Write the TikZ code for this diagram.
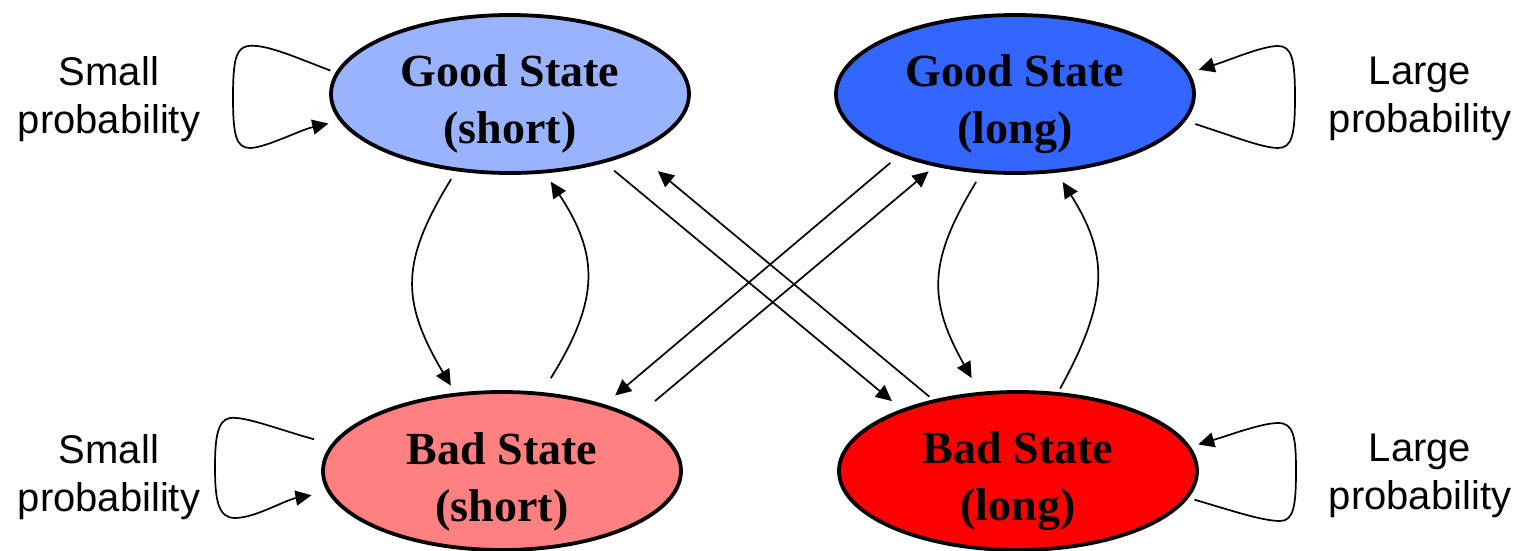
\documentclass[tikz,border=0pt]{standalone}
\usepackage{fontspec}
\setmainfont{Liberation Serif}
\newfontfamily\labelfont{Liberation Sans}
\usetikzlibrary{arrows.meta,shapes.geometric}
\definecolor{gsfill}{RGB}{153,179,255}
\definecolor{glfill}{RGB}{51,102,255}
\definecolor{bsfill}{RGB}{255,128,128}
\definecolor{blfill}{RGB}{255,0,0}
\begin{document}
\begin{tikzpicture}[x=0.5pt,y=-0.5pt,
  state/.style={ellipse, draw=black, line width=1.9pt, minimum width=179pt, minimum height=79pt, inner sep=0pt},
  statetext/.style={font=\fontsize{23}{28.5}\selectfont\bfseries, align=center, inner sep=0pt},
  problabel/.style={font=\labelfont\fontsize{20}{24}\selectfont, align=center, inner sep=0pt},
  conn/.style={line width=0.85pt, -{Triangle[length=8pt,width=7.5pt]}}
]
\fill[white] (0,0) rectangle (1517,551);
\useasboundingbox (0,0) rectangle (1517,551);

% states
\node[state, fill=gsfill] (gs) at (510,94) {};
\node[state, fill=glfill] (gl) at (1015,94) {};
\node[state, fill=bsfill] (bs) at (502,471) {};
\node[state, fill=blfill] (bl) at (1018,471) {};
\node[statetext] (gst) at ([yshift=-5pt]gs.center) {Good State\\(short)};
\node[statetext] (glt) at ([yshift=-5pt]gl.center) {Good State\\(long)};
\node[statetext] (bst) at ([yshift=-5.5pt]bs.center) {Bad State\\(short)};
\node[statetext] (blt) at ([yshift=-5pt]bl.center) {Bad State\\(long)};

% labels
\node[problabel] (lgs) at (109,99) {Small\\probability};
\node[problabel] (lbs) at (109,477) {Small\\probability};
\node[problabel] (lgl) at (1420,99) {Large\\probability};
\node[problabel] (lbl) at (1420,476) {Large\\probability};

% vertical curved transitions
\draw[conn, shorten <=4.6pt, shorten >=4.15pt] (gs.235) .. controls +(-55,90) and +(-55,-93) .. (bs.121);
\draw[conn, shorten <=8.2pt, shorten >=5pt] (bs.63) .. controls +(57.4,-92.6) and +(54.1,82.2) .. (gs.294);
\draw[conn, shorten <=5pt, shorten >=8pt] (gl.247) .. controls +(-52.9,87.1) and +(-52.1,-92.5) .. (bl.116);
\draw[conn, shorten <=2pt, shorten >=5.5pt] (bl.63) .. controls +(50.9,-92.7) and +(52.2,82.8) .. (gl.298);

% diagonal transitions
\draw[conn, shorten <=6pt, shorten >=6.25pt] (gs.324) -- (bl.152);
\draw[conn, shorten <=2.3pt, shorten >=14.7pt] (bl.140) -- (gs.335);
\draw[conn, shorten <=5.4pt, shorten >=6.9pt] (gl.208) -- (bs.33);
\draw[conn, shorten <=12.25pt, shorten >=3.85pt] (bs.22) -- (gl.222);

% self loops
\draw[conn, shorten <=2.75pt, shorten >=5.7pt] (gs.173) .. controls (290,55) and (265,44) .. (248,46)
  .. controls (236,48) and (233,60) .. (233,97)
  .. controls (233,135) and (236,148) .. (250,148)
  .. controls (265,148) and (300,130) .. (gs.189);
\draw[conn, shorten <=5.1pt, shorten >=4.85pt] (gl.351) .. controls (1230,135) and (1262,148) .. (1278,148)
  .. controls (1292,148) and (1295,135) .. (1295,97)
  .. controls (1295,60) and (1292,46) .. (1278,46)
  .. controls (1262,46) and (1230,60) .. (gl.7);
\draw[conn, shorten <=9pt, shorten >=8.15pt] (bs.171) .. controls (280,430) and (245,416) .. (230,418)
  .. controls (217,420) and (215,440) .. (215,467)
  .. controls (215,500) and (218,518) .. (235,518)
  .. controls (255,518) and (285,500) .. (bs.187);
\draw[conn, shorten <=3.1pt, shorten >=4pt] (bl.351) .. controls (1230,510) and (1262,521) .. (1280,521)
  .. controls (1294,521) and (1296,505) .. (1296,470)
  .. controls (1296,435) and (1293,423) .. (1278,423)
  .. controls (1262,423) and (1230,435) .. (bl.8);
\end{tikzpicture}
\end{document}
